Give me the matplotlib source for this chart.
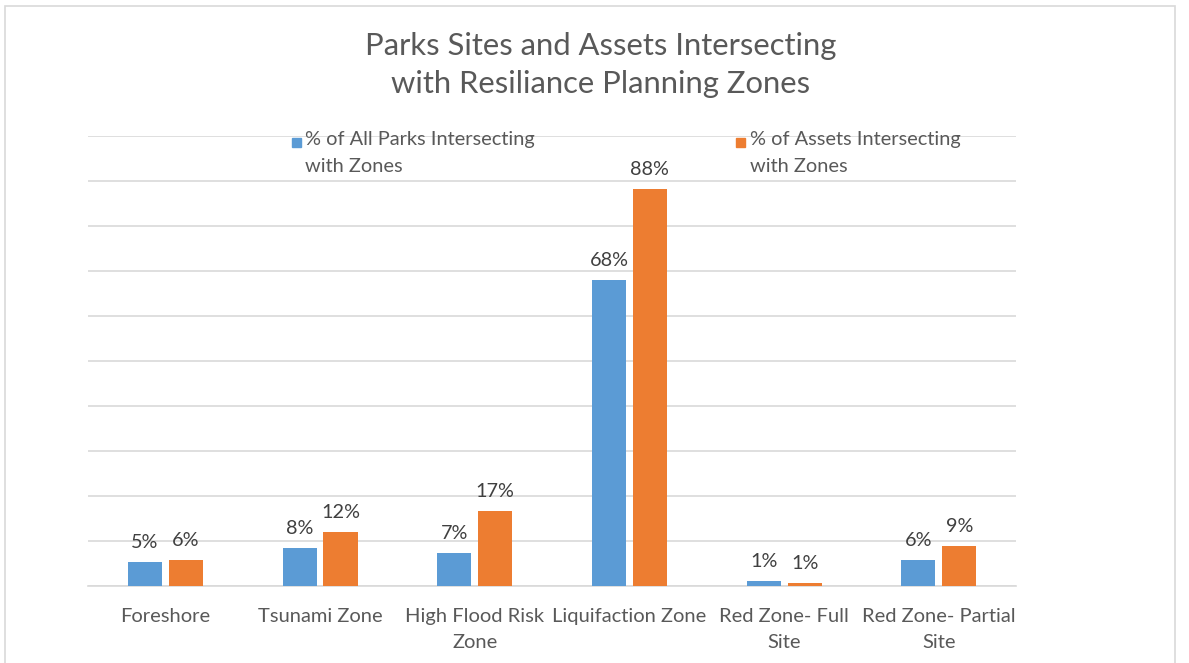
import matplotlib
matplotlib.use("Agg")
import matplotlib.pyplot as plt
from matplotlib.patches import Rectangle
import numpy as np

plt.rcParams['font.family'] = ['Lato', 'DejaVu Sans']

categories = ["Foreshore", "Tsunami Zone", "High Flood Risk\nZone", "Liquifaction Zone",
              "Red Zone- Full\nSite", "Red Zone- Partial\nSite"]
parks_pct = [0.053, 0.084, 0.073, 0.68, 0.011, 0.058]
assets_pct = [0.058, 0.120, 0.167, 0.882, 0.007, 0.089]
series_names = ["% of All Parks Intersecting\nwith Zones", "% of Assets Intersecting\nwith Zones"]

blue = "#5B9BD5"
orange = "#ED7D31"
grey_txt = "#595959"

fig = plt.figure(figsize=(11.89, 6.63), dpi=100)
ax = fig.add_axes([0.074, 0.1161, 0.7806, 0.6787])

x = np.arange(len(categories))
w = 0.22
gap = 0.045
b1 = ax.bar(x - w / 2 - gap / 2, parks_pct, w, color=blue, zorder=3)
b2 = ax.bar(x + w / 2 + gap / 2, assets_pct, w, color=orange, zorder=3)

for bars, vals in ((b1, parks_pct), (b2, assets_pct)):
    for r, v in zip(bars, vals):
        ax.text(r.get_x() + r.get_width() / 2, v + 0.024, "%d%%" % round(v * 100),
                ha="center", va="bottom", fontsize=14.3, color="#404040")

ax.set_xlim(-0.5, len(categories) - 0.5)
ax.set_ylim(0, 1.0)
ax.set_yticks(np.arange(0, 1.01, 0.1))
ax.yaxis.grid(True, color="#d9d9d9", linewidth=1.2, zorder=0)
ax.tick_params(axis="y", left=False, labelleft=False)
ax.tick_params(axis="x", length=0, pad=16)
ax.set_xticks(x)
ax.set_xticklabels(categories, fontsize=14.5, color=grey_txt, linespacing=1.65)
for s in ["top", "right", "left"]:
    ax.spines[s].set_visible(False)
ax.spines["bottom"].set_color("#d9d9d9")
ax.spines["bottom"].set_linewidth(1.2)

fig.text(0.505, 0.902, "Parks Sites and Assets Intersecting\nwith Resiliance Planning Zones",
         ha="center", va="center", fontsize=22.3, color=grey_txt, linespacing=1.45)

# legend
for sx, tx, col, name in ((292, 305, blue, series_names[0]), (736, 750, orange, series_names[1])):
    fig.patches.append(Rectangle((sx / 1189, 1 - 147 / 663), 9 / 1189, 9 / 663,
                                 transform=fig.transFigure, color=col))
    fig.text(tx / 1189, 1 - 131 / 663, name, ha="left", va="top", fontsize=14.4,
             color=grey_txt, linespacing=1.75)

# outer frame
fig.patches.append(Rectangle((5 / 1189, -0.05), 1170 / 1189, 1 - 6 / 663 + 0.05,
                             transform=fig.transFigure, fill=False, edgecolor="#d9d9d9", linewidth=1.2))

fig.savefig("out.png", dpi=100)
